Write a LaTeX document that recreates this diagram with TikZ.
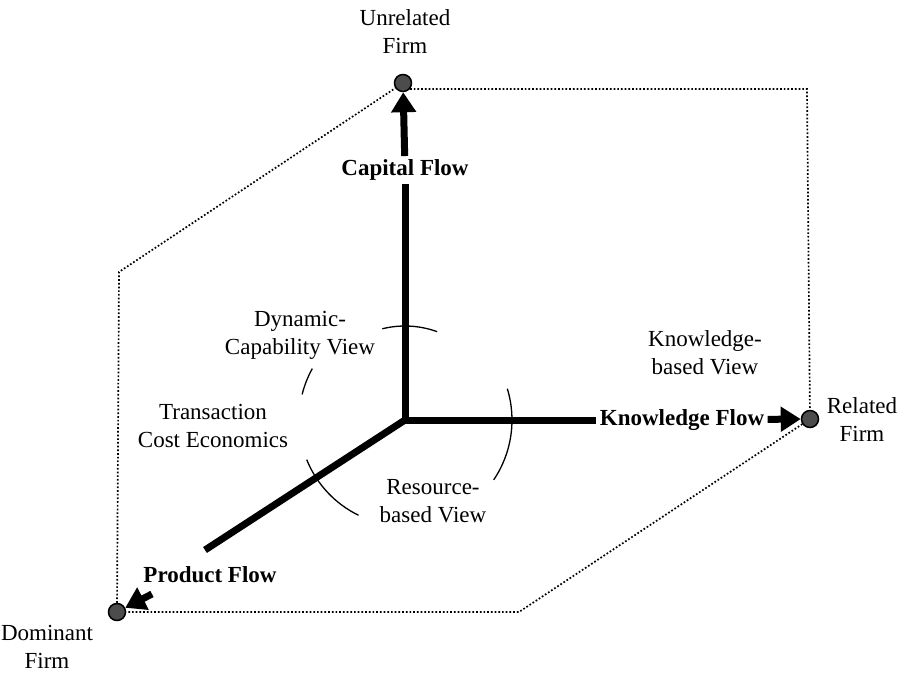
\documentclass[tikz,border=0pt]{standalone}
\usepackage{fontspec}
\setmainfont{Liberation Serif}
\usetikzlibrary{arrows.meta}

\begin{document}
\begin{tikzpicture}[x=1pt,y=-1pt,
		firm/.style={circle,draw=black,line width=1.5pt,fill=black!70,inner sep=0pt,minimum size=17pt},
		lbl/.style={align=center,font=\fontsize{23}{28}\selectfont},
		flow/.style={align=center,font=\fontsize{23}{29}\selectfont\bfseries},
		axis/.style={line width=7pt},
		flowtip/.style={line width=7pt,-{Triangle[width=24pt,length=20pt]}},
		frame/.style={dotted,line width=1.7pt},
		view/.style={line width=1.3pt}]
				\useasboundingbox (0,0) rectangle (914,674);
				\coordinate (O) at (405,420);
				\coordinate (pend) at (205,550);
				\coordinate (pstart) at (152,594);
				\coordinate (ctr) at (807,89);
				\coordinate (cbr) at (519,612);
				\coordinate (cbl) at (119,272);
				% firms
				\node[firm] (unrel) at (403,83) {};
				\node[firm] (rel) at (810,419) {};
				\node[firm] (dom) at (117,612) {};
				\node[lbl] (unrellbl) at (405,32) {Unrelated\\Firm};
				\node[lbl] (rellbl) at (862,420) {Related\\Firm};
				\node[lbl] (domlbl) at (47,647) {Dominant\\Firm};
				% flows
				\node[flow] (cap) at (405,170) {Capital Flow};
				\node[flow] (know) at (682,420) {Knowledge Flow};
				\node[flow] (prod) at (210,575) {Product Flow};
				% views
				\node[lbl] (dcv) at (300,335) {Dynamic-\\Capability View};
				\node[lbl] (kbv) at (705,353) {Knowledge-\\based View};
				\node[lbl] (tce) at (213,426) {Transaction\\Cost Economics};
				\node[lbl] (rbv) at (433,501) {Resource-\\based View};
				% dotted frame
				\draw[frame] (unrel.-40) -- (ctr) -- (rel);
				\draw[frame] (rel) -- (cbr) -- (dom);
				\draw[frame] (dom) -- (cbl) -- (unrel);
				% axes
				\draw[axis] (cap) -- (O) -- (know);
				\draw[axis] (O) -- (pend);
				\draw[flowtip] (cap) -- (unrel);
				\draw[flowtip] (know) -- (rel);
				\draw[flowtip] (pstart) -- (dom);
				% arcs
				\draw[view] ([shift={(104:94pt)}]O) arc[start angle=104,end angle=70,radius=94pt];
				\draw[view] ([shift={(17:107pt)}]O) arc[start angle=17,end angle=-34,radius=107pt];
				\draw[view] ([shift={(202:106pt)}]O) arc[start angle=202,end angle=244,radius=106pt];
				\draw[view] ([shift={(151:106pt)}]O) arc[start angle=151,end angle=166,radius=106pt];
			\end{tikzpicture}
\end{document}
